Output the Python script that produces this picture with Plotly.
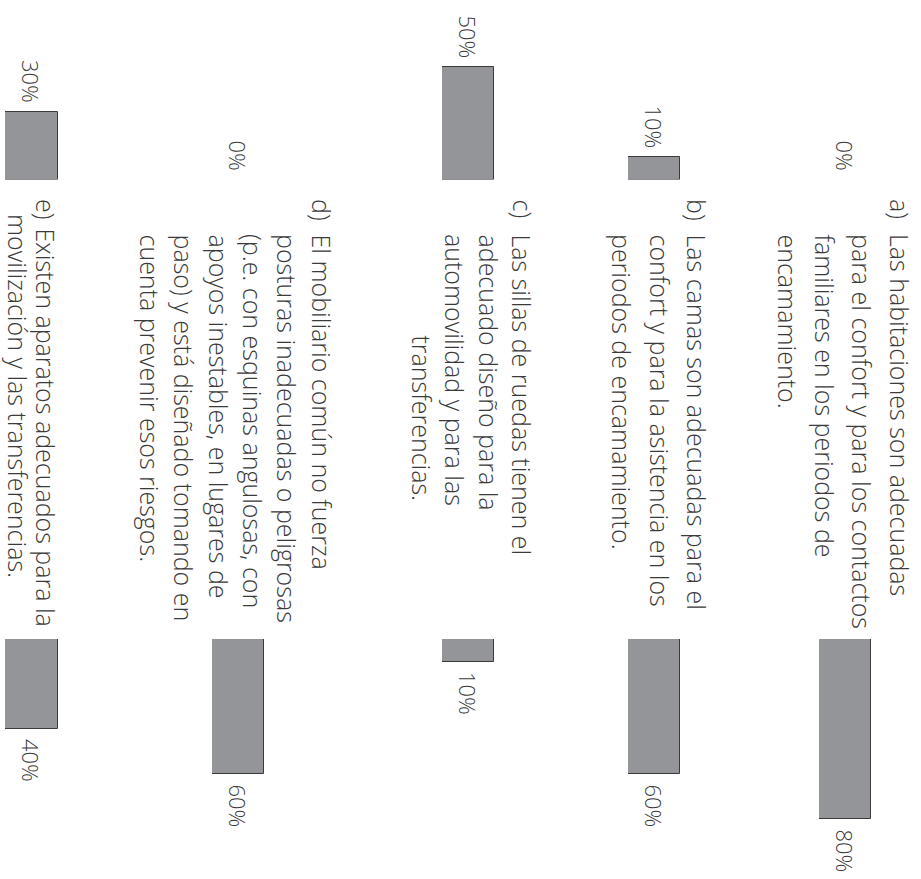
import plotly.graph_objects as go

# Survey items (rows of the chart) and the two percentages for each
categories = ["a", "b", "c", "d", "e"]
pct_upper = [0, 10, 50, 0, 30]
pct_lower = [80, 60, 10, 60, 40]
item_markers = ["a)", "b)", "c)", "d)", "e)"]
item_lines = [
    ["Las habitaciones son adecuadas",
     "para el confort y para los contactos",
     "familiares en los periodos de",
     "encamamiento."],
    ["Las camas son adecuadas para el",
     "confort y para la asistencia en los",
     "periodos de encamamiento."],
    ["Las sillas de ruedas tienen el",
     "adecuado diseño para la",
     "automovilidad y para las",
     "transferencias."],
    ["El mobiliario común no fuerza",
     "posturas inadecuadas o peligrosas",
     "(p.e. con esquinas angulosas, con",
     "apoyos inestables, en lugares de",
     "paso) y está diseñado tomando en",
     "cuenta prevenir esos riesgos."],
    ["Existen aparatos adecuados para la",
     "movilización y las transferencias."],
]

W, H = 921, 879
FONT = "Open Sans"
TEXT_COLOR = "#3a3a3a"
BAR_FILL = "#939598"
BAR_EDGE = "#3a3a3a"
LABEL_SIZE = 22
DESC_SIZE = 25

# Layout of each column (pixels): bar left/right edges
col_edges = [(819, 871), (628, 680), (442, 494), (212, 264), (5, 58)]
# text block layout: first-line offset from bar centre, line spacing
text_first_offset = [55, 43, 54, 84, 14]
text_line_step = [37.5, 37.5, 33.5, 34.5, 27.5]
# where each text line starts (pixels from top)
text_line_start = [
    [232, 232, 232, 232],
    [232, 232, 232],
    [232, 232, 232, 333],
    [232, 232, 232, 232, 232, 232],
    [226, 212],
]
marker_start = 197

PX_PER_PCT = 2.25
upper_base = 179.5
lower_base = 639

fig = go.Figure()

layout = dict(
    width=W, height=H,
    margin=dict(l=0, r=0, t=0, b=0),
    paper_bgcolor="white", plot_bgcolor="white",
    showlegend=False, barmode="overlay", bargap=0,
    yaxis=dict(domain=[1 - upper_base / H, 1], range=[0, upper_base / PX_PER_PCT],
               visible=False, anchor="x", fixedrange=True),
    yaxis2=dict(domain=[0, 1 - lower_base / H], range=[(H - lower_base) / PX_PER_PCT, 0],
                visible=False, anchor="x", fixedrange=True),
)


def bar_marker(v):
    # no outline on empty bars
    return dict(color=BAR_FILL, line=dict(color=BAR_EDGE, width=1 if v > 0 else 0))


def label_font(size):
    return dict(family=FONT, size=size, color=TEXT_COLOR, weight=300)


annotations = []
for i, cat in enumerate(categories):
    xname = "x" if i == 0 else f"x{i + 1}"
    axkey = "xaxis" if i == 0 else f"xaxis{i + 1}"
    x0, x1 = col_edges[i]
    layout[axkey] = dict(domain=[x0 / W, x1 / W], type="category",
                         range=[-0.5, 0.5], visible=False, fixedrange=True,
                         anchor="y")

    fig.add_trace(go.Bar(
        x=[cat], y=[pct_upper[i]], xaxis=xname, yaxis="y",
        marker=bar_marker(pct_upper[i]), hoverinfo="skip",
    ))
    fig.add_trace(go.Bar(
        x=[cat], y=[pct_lower[i]], xaxis=xname, yaxis="y2",
        marker=bar_marker(pct_lower[i]), hoverinfo="skip",
    ))

    # value labels beyond the bar ends
    annotations.append(dict(
        x=cat, y=pct_upper[i], xref=xname, yref="y",
        text=f"{pct_upper[i]}%", textangle=90, showarrow=False,
        xanchor="center", yanchor="bottom", yshift=7,
        font=label_font(LABEL_SIZE),
    ))
    annotations.append(dict(
        x=cat, y=pct_lower[i], xref=xname, yref="y2",
        text=f"{pct_lower[i]}%", textangle=90, showarrow=False,
        xanchor="center", yanchor="top", yshift=-8,
        font=label_font(LABEL_SIZE),
    ))

    # item description, one rotated line at a time
    off0 = text_first_offset[i]
    step = text_line_step[i]
    annotations.append(dict(
        x=0.5, xref=f"{xname} domain", xshift=off0,
        y=1 - marker_start / H, yref="paper",
        text=item_markers[i], textangle=90, showarrow=False,
        xanchor="center", yanchor="top", font=label_font(DESC_SIZE),
    ))
    for k, line in enumerate(item_lines[i]):
        annotations.append(dict(
            x=0.5, xref=f"{xname} domain", xshift=off0 - k * step,
            y=1 - text_line_start[i][k] / H, yref="paper",
            text=line, textangle=90, showarrow=False,
            xanchor="center", yanchor="top", font=label_font(DESC_SIZE),
        ))

layout["annotations"] = annotations
fig.update_layout(**layout)
fig.write_html("out.html")
